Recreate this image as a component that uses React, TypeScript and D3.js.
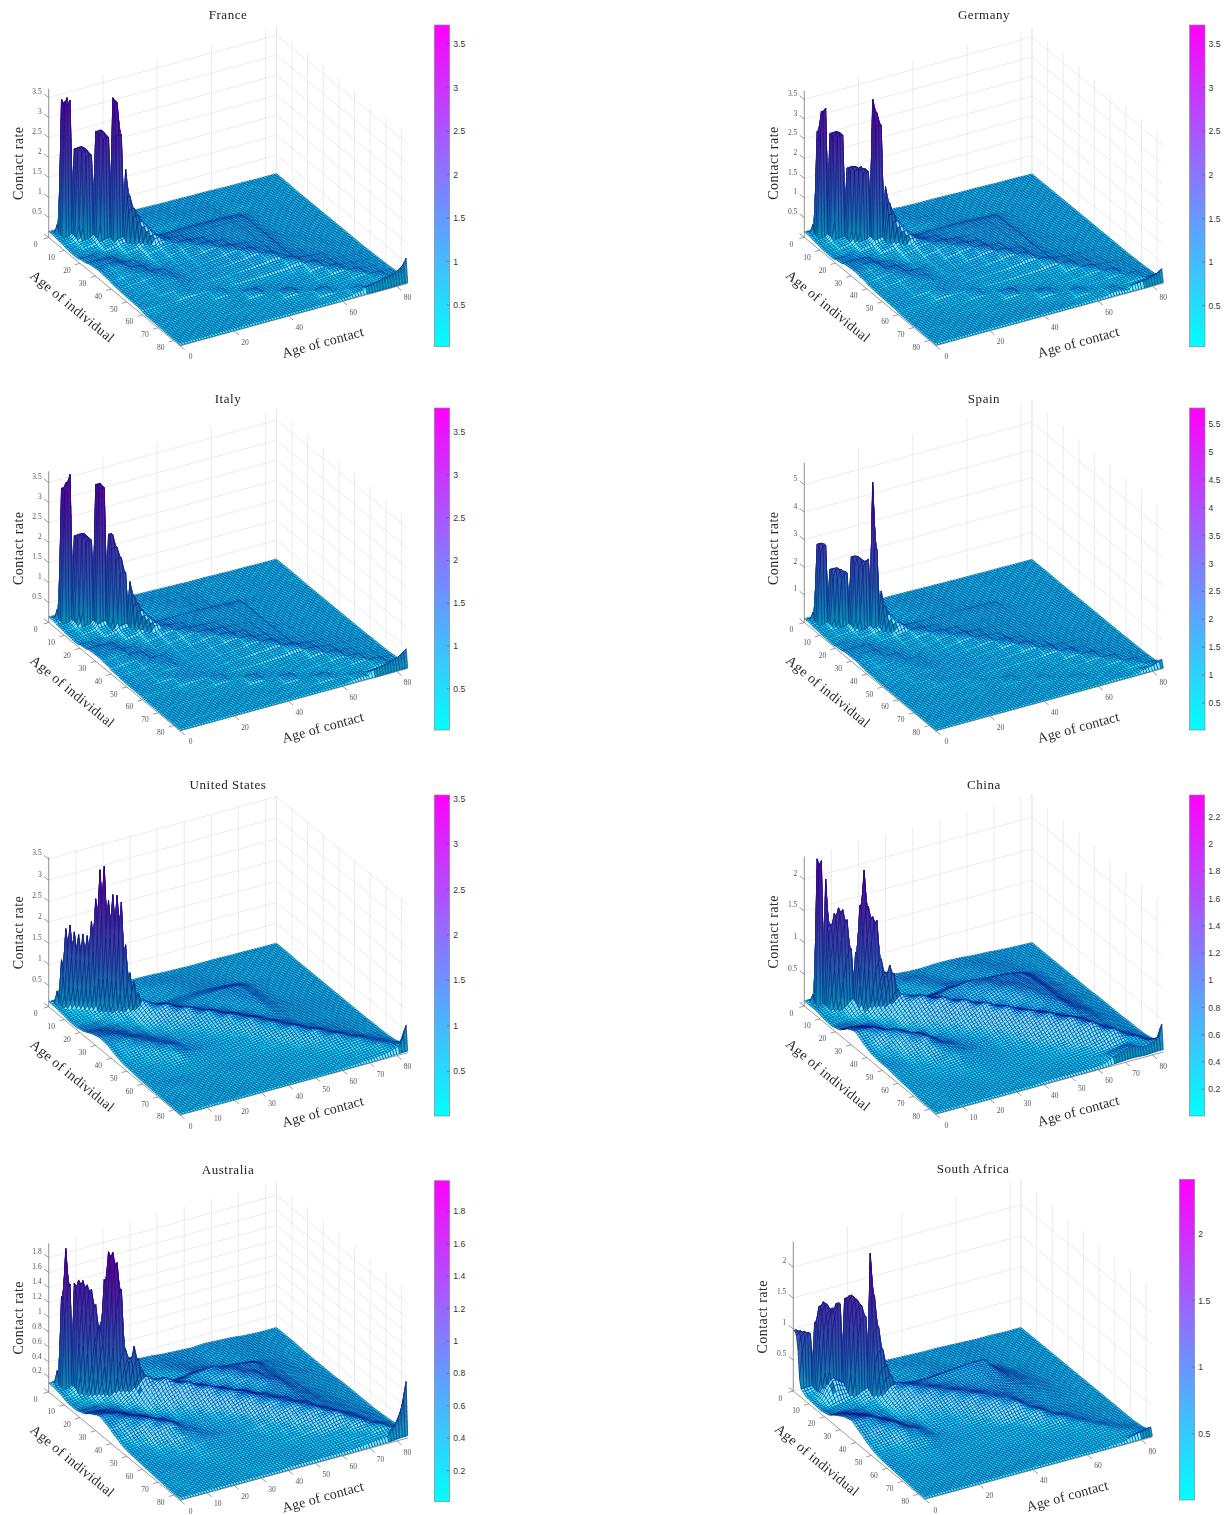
import React, { useMemo } from "react";
import * as d3 from "d3";

// Contact rates, in hundredths, per 5-year band of age (rows: individual, columns: contact).
// The mesh of the surface has one node per year; each node takes its value from these readings.
const franceBands = [
  [15,12,10,10,9,10,10,9,8,8,7,7,6,5,5,4,4],
  [12,25,12,10,9,11,11,10,9,8,7,6,5,5,4,4,4],
  [8,15,30,18,9,9,11,11,10,9,8,6,6,5,4,4,3],
  [7,8,18,30,14,9,9,10,10,9,8,6,5,5,4,3,3],
  [12,10,10,18,28,22,18,18,18,18,18,16,7,5,4,3,3],
  [18,18,10,12,22,28,24,20,20,20,20,17,7,5,4,3,3],
  [20,24,14,10,17,24,30,26,22,21,21,18,7,5,4,3,3],
  [18,22,20,12,15,20,26,32,26,22,21,18,8,5,4,3,3],
  [14,18,22,18,15,18,22,26,32,26,22,18,8,6,4,3,3],
  [12,14,18,20,15,17,19,22,26,32,24,18,8,6,5,3,3],
  [11,12,15,16,15,15,17,18,20,24,30,18,10,7,5,4,3],
  [10,10,10,15,13,12,12,14,14,16,18,24,14,10,6,4,3],
  [5,6,6,7,8,13,8,7,7,7,8,10,20,12,8,5,4],
  [5,5,5,5,6,6,6,13,7,6,7,8,12,18,10,7,5],
  [4,4,4,4,4,5,5,5,6,12,6,6,8,10,15,8,6],
  [3,3,3,3,3,3,4,4,4,4,5,11,6,7,8,12,8],
  [3,3,3,3,3,3,3,3,3,3,3,3,4,10,5,6,12],
];
const germanyBands = [
  [14,10,8,8,9,10,11,9,8,8,7,6,6,5,4,4,3],
  [10,24,12,9,9,11,12,10,9,8,7,6,5,5,4,3,3],
  [7,14,30,16,9,9,12,12,10,8,7,6,5,4,4,3,3],
  [6,8,18,32,15,9,10,11,11,9,7,6,5,4,3,3,3],
  [11,9,10,20,30,22,17,17,17,17,16,14,6,4,3,3,3],
  [17,17,9,11,22,30,24,19,18,19,18,15,6,4,3,3,3],
  [19,23,13,9,16,24,30,26,21,20,19,16,6,4,3,3,3],
  [16,21,19,11,13,18,26,32,26,21,19,16,7,4,3,3,3],
  [12,16,20,16,13,16,20,26,32,24,19,15,7,5,3,3,3],
  [10,12,16,18,13,15,17,20,24,30,22,16,7,5,4,3,3],
  [9,10,14,14,13,13,15,16,18,22,28,16,9,6,4,3,3],
  [8,8,8,14,12,11,11,12,12,14,16,22,13,9,5,4,3],
  [5,5,5,6,7,12,7,6,6,7,8,10,18,11,7,4,3],
  [4,4,4,4,5,5,5,12,6,5,6,8,11,16,9,6,4],
  [4,4,3,3,3,4,4,4,5,11,5,5,7,9,13,7,5],
  [3,3,3,3,3,3,3,3,3,3,4,10,5,6,7,10,7],
  [3,3,3,3,3,3,3,3,3,3,3,3,4,9,4,5,12],
];
const italyBands = [
  [14,10,8,7,8,10,10,9,8,7,6,6,5,4,4,3,3],
  [10,22,11,8,8,11,11,10,9,7,6,5,5,4,3,3,3],
  [7,12,28,14,8,9,11,11,10,8,6,5,5,4,3,3,3],
  [5,7,15,28,13,9,10,11,11,9,6,5,4,4,3,3,2],
  [10,8,8,16,24,16,14,14,14,13,12,10,5,4,3,3,2],
  [15,15,8,9,16,24,18,15,14,13,12,10,5,4,3,3,2],
  [16,18,11,8,12,18,24,20,16,14,12,10,5,4,3,3,2],
  [13,16,15,9,10,14,20,25,20,16,13,10,5,4,3,3,2],
  [9,12,15,13,10,13,16,20,25,19,14,10,6,4,3,3,2],
  [7,9,12,14,10,12,13,16,19,24,16,10,6,4,3,3,2],
  [6,7,11,10,10,10,11,13,15,18,22,12,7,5,4,3,2],
  [6,6,6,11,10,8,8,10,10,12,14,20,11,7,5,3,2],
  [4,4,4,5,6,10,6,5,5,6,7,9,16,10,6,4,3],
  [4,4,4,4,4,4,4,10,5,5,6,7,9,14,8,5,3],
  [3,3,3,3,3,3,3,3,4,9,4,4,6,8,12,6,4],
  [3,3,3,3,3,3,3,3,3,3,4,8,4,5,6,10,6],
  [2,2,2,2,2,2,2,2,2,2,2,2,3,7,3,5,10],
];
const spainBands = [
  [14,10,8,7,8,10,10,9,8,7,6,5,5,4,4,3,3],
  [10,20,11,8,8,11,11,10,9,7,6,5,5,4,3,3,3],
  [7,12,26,13,8,9,11,11,10,8,6,5,4,4,3,3,3],
  [5,7,14,28,13,9,10,11,11,9,6,5,4,4,3,3,2],
  [9,8,8,15,26,16,13,13,13,12,11,9,4,4,3,3,2],
  [14,14,8,9,16,26,18,14,13,12,11,9,5,4,3,3,2],
  [15,17,10,8,12,18,26,20,15,13,11,9,5,4,3,3,2],
  [11,15,14,9,10,14,20,28,20,15,12,9,5,4,3,3,2],
  [8,11,14,12,10,12,15,20,26,18,12,9,6,4,3,3,2],
  [6,8,11,13,10,11,12,15,18,26,15,10,6,4,3,3,2],
  [5,6,9,9,9,10,10,12,14,17,24,12,7,5,4,3,2],
  [5,5,6,9,8,8,8,9,10,11,13,20,11,7,5,3,2],
  [4,4,4,5,5,8,5,5,5,6,7,10,18,10,6,4,3],
  [4,4,4,4,4,4,4,8,4,5,6,7,9,16,8,5,3],
  [3,3,3,3,3,3,3,3,3,7,4,4,6,8,14,6,4],
  [3,3,3,3,3,3,3,3,3,3,3,6,4,5,6,12,6],
  [2,2,2,2,2,2,2,2,2,2,2,2,3,5,3,5,14],
];
const usBands = [
  [12,10,8,8,8,10,10,9,7,6,5,5,5,4,4,3,3],
  [10,20,14,8,7,9,11,11,9,7,5,5,4,4,3,3,3],
  [6,14,24,16,7,7,9,10,10,8,6,5,4,4,3,3,2],
  [5,6,16,28,14,8,8,10,11,10,8,6,4,3,3,2,2],
  [10,8,8,16,44,26,16,17,19,20,21,18,6,4,3,2,2],
  [20,14,8,10,32,44,26,17,18,20,22,19,7,4,3,2,2],
  [26,22,12,9,20,32,44,26,18,18,21,20,8,4,3,2,2],
  [24,28,20,12,13,21,32,42,26,18,18,20,9,5,3,2,2],
  [16,24,26,18,12,15,21,32,40,26,17,18,9,6,4,3,2],
  [10,14,24,26,13,13,15,21,30,38,24,15,9,7,5,3,2],
  [8,9,14,22,15,12,12,15,19,28,34,20,10,7,5,3,2],
  [6,7,8,9,9,9,10,11,13,18,26,32,16,9,6,3,2],
  [5,5,5,5,6,6,6,7,8,10,14,24,30,14,7,4,3],
  [4,5,5,4,4,5,5,5,6,7,9,12,20,26,12,5,3],
  [3,3,4,3,3,3,4,4,4,5,6,7,10,16,22,10,4],
  [3,3,3,3,2,2,3,3,3,3,3,4,5,7,12,18,8],
  [2,2,3,2,2,2,2,2,2,2,2,2,3,4,6,10,20],
];
const chinaBands = [
  [8,8,7,6,9,12,12,10,9,10,10,9,7,6,4,3,2],
  [8,16,10,7,9,11,14,13,10,9,10,10,9,6,4,3,2],
  [5,10,30,12,8,8,11,14,12,9,9,10,10,7,4,3,2],
  [4,5,14,34,14,9,9,12,15,13,10,9,10,8,5,3,2],
  [8,7,8,22,40,30,22,22,26,30,28,26,24,20,8,3,2],
  [20,14,9,14,30,42,30,22,24,30,32,28,26,22,9,3,2],
  [26,24,12,10,20,32,44,30,22,26,32,32,28,24,10,4,2],
  [18,28,26,12,14,22,32,44,30,22,26,32,30,24,11,4,2],
  [12,20,30,24,12,16,22,32,44,30,22,26,30,24,12,5,3],
  [10,14,24,30,16,13,16,22,32,42,30,22,26,26,14,5,3],
  [10,10,16,24,20,14,13,16,22,32,40,30,22,26,16,6,3],
  [8,8,11,15,18,15,12,12,16,22,32,40,28,22,16,7,3],
  [6,6,7,9,12,11,10,9,11,14,20,30,38,26,14,7,4],
  [5,5,5,5,7,8,7,7,8,9,12,16,26,34,18,8,4],
  [3,4,4,4,4,5,5,5,5,6,7,9,12,18,28,12,5],
  [2,3,3,3,3,3,3,4,4,4,4,5,6,8,12,20,8],
  [2,2,2,2,2,2,2,2,3,3,3,3,4,14,20,14,20],
];
const australiaBands = [
  [12,10,8,8,8,11,12,11,9,8,7,8,7,6,4,3,3],
  [10,20,10,8,8,10,12,12,10,8,7,8,7,6,4,3,3],
  [6,10,26,14,8,8,10,13,12,9,7,7,7,6,4,3,3],
  [6,6,14,30,16,10,9,11,14,12,8,7,7,6,4,3,2],
  [10,9,9,20,40,28,20,20,24,26,22,20,17,8,5,3,2],
  [18,14,9,12,28,40,28,20,21,26,26,21,17,9,6,3,2],
  [24,20,13,10,18,28,38,28,20,21,26,24,18,10,6,4,2],
  [20,24,20,12,13,19,28,36,28,20,21,25,20,11,6,4,2],
  [14,20,26,19,12,15,19,28,34,28,20,21,20,12,6,4,3],
  [9,13,22,25,14,13,15,19,28,32,26,20,18,13,7,4,3],
  [7,8,13,19,16,12,13,15,18,26,30,24,18,14,8,4,3],
  [6,6,8,12,14,13,12,12,14,17,24,28,22,14,9,5,3],
  [5,5,6,7,10,10,9,9,9,12,15,22,26,18,10,6,3],
  [4,5,5,5,6,7,7,6,7,8,10,13,18,24,14,7,4],
  [3,4,4,4,4,5,5,5,5,5,6,7,9,12,18,9,5],
  [2,3,3,3,3,3,4,4,4,4,4,5,6,8,9,14,7],
  [2,2,2,2,2,2,2,2,3,3,3,3,3,4,6,7,16],
];
const southAfricaBands = [
  [20,10,6,5,6,8,9,8,7,6,6,5,4,3,3,2,2],
  [8,20,8,5,6,7,8,9,8,6,6,5,4,3,2,2,2],
  [6,40,24,8,6,6,7,8,8,7,5,5,4,3,2,2,2],
  [5,8,14,24,12,7,7,8,9,8,5,5,4,3,2,2,2],
  [8,8,8,14,34,28,24,24,26,28,30,30,8,3,2,2,2],
  [18,12,8,9,26,34,28,24,24,26,28,26,12,5,3,2,2],
  [26,20,10,8,18,28,34,28,24,24,26,22,14,7,3,2,2],
  [30,28,17,8,12,20,28,34,28,24,24,20,14,8,4,2,2],
  [22,26,24,12,9,15,20,28,34,28,24,18,12,8,4,2,2],
  [14,18,24,18,9,12,15,20,26,32,26,16,10,7,4,2,2],
  [8,10,16,17,10,9,11,13,16,24,30,16,9,6,3,2,2],
  [6,7,9,10,8,8,8,9,10,12,16,22,10,6,4,2,2],
  [5,5,6,7,6,6,6,6,7,8,8,12,16,8,4,3,2],
  [4,4,4,4,4,4,4,4,4,5,5,6,8,12,5,3,2],
  [3,3,3,3,3,3,3,3,3,3,4,4,5,6,9,4,2],
  [2,2,2,2,2,2,2,2,2,2,2,3,3,4,5,7,4],
  [2,2,2,2,2,2,2,2,2,2,2,2,2,2,3,4,8],
];

// Rate on the main diagonal of the surface, one value per year of age from 0.
const franceDiagonal = [0.12,0.15,0.35,3.5,3.35,3.5,2.3,2.35,2.35,2.3,2.2,2.8,2.85,2.8,2.7,3.7,3.6,2.8,1.95,1.3,1.0,0.85,0.7,0.6,0.5,0.42,0.36,0.3];
const germanyDiagonal = [0.12,0.15,0.35,2.73,3.25,3.35,2.72,2.76,2.76,2.72,1.9,1.93,1.95,1.9,1.93,1.88,3.73,3.4,3.1,1.55,1.15,0.9,0.72,0.6,0.5,0.42,0.35,0.3];
const italyDiagonal = [0.12,0.15,0.35,3.4,3.55,3.77,2.25,2.3,2.3,2.28,2.2,3.6,3.65,3.55,2.4,2.4,2.1,1.85,1.5,1.28,0.95,0.75,0.6,0.5,0.42,0.35,0.3];
const spainDiagonal = [0.1,0.15,0.4,2.9,2.95,2.9,2.05,2.1,2.1,2.05,2.0,2.6,2.65,2.6,2.5,2.6,5.4,3.0,1.5,0.95,0.7,0.55,0.45,0.38,0.3];
const usDiagonal = [0.12,0.15,0.4,1.15,1.9,2.0,1.85,1.8,1.82,1.8,2.15,2.7,3.4,3.5,2.7,2.85,2.85,2.7,1.7,1.05,0.85,0.6,0.45,0.35];
const chinaDiagonal = [0.08,0.1,0.2,2.35,2.33,2.05,1.35,1.52,1.62,1.6,1.45,1.0,0.95,1.7,2.27,1.7,1.55,1.5,0.9,0.7,0.82,0.7,0.45,0.3];
const australiaDiagonal = [0.12,0.14,0.3,1.3,1.95,1.48,1.5,1.55,1.55,1.5,1.45,1.25,0.95,1.6,1.98,1.98,1.85,1.5,0.7,0.6,0.76,0.6,0.45,0.3];
const southAfricaDiagonal = [0.98,0.98,0.97,0.97,0.96,1.15,1.42,1.5,1.46,1.38,1.5,1.5,1.6,1.65,1.65,1.6,1.52,1.35,2.38,1.7,1.2,0.85,0.6,0.45,0.32];

// Years after which the diagonal breaks between two blocks.
const franceBreaks = [2,5,10,14,17];
const germanyBreaks = [2,5,9,15,18];
const italyBreaks = [2,5,10,13,18];
const spainBreaks = [2,5,10,15,17];
const usBreaks = [2];
const chinaBreaks = [2,4,11];
const australiaBreaks = [2,5];
const southAfricaBreaks = [4,11,17];

// Share of the diagonal rate kept 0, 1, 2... years off the diagonal.
const franceCross = [1,1,1,0.2,0.1];
const germanyCross = [1,1,1,0.2,0.1];
const italyCross = [1,1,1,0.2,0.1];
const spainCross = [1,1,0.9,0.2,0.08];
const usCross = [1,0.68,0.32,0.12];
const chinaCross = [1,0.95,0.8,0.5,0.22];
const australiaCross = [1,0.95,0.8,0.5,0.22];
const southAfricaCross = [1,1,0.95,0.75,0.3];

// Rates at the far corner, along the second-oldest row, ending at the oldest contact age.
const franceTail = [0.16,0.17,0.18,0.2,0.21,0.22,0.23,0.25,0.26,0.27,0.29,0.32,0.36,0.4,0.46,0.6];
const germanyTail = [0.12,0.13,0.14,0.15,0.16,0.17,0.18,0.2,0.22,0.24,0.28,0.34];
const italyTail = [0.14,0.15,0.16,0.18,0.19,0.2,0.22,0.24,0.26,0.28,0.31,0.35,0.4,0.46];
const spainTail = [0.1,0.11,0.12,0.14,0.16,0.19,0.23,0.28];
const usTail = [0.1,0.12,0.16,0.24,0.38,0.62];
const chinaTail = [0.1,0.14,0.25,0.42];
const australiaTail = [0.12,0.15,0.2,0.27,0.36,0.5,0.74];
const southAfricaTail = [0.06,0.07,0.08,0.09,0.1,0.11,0.12,0.13,0.14];
const tailRows = [0,1,0.8,0.4];

const ticks20 = [0,20,40,60,80];
const ticks10 = [0,10,20,30,40,50,60,70,80];
const zTicks35 = [0,0.5,1,1.5,2,2.5,3,3.5];
const AGE_MAX = 84;

const panels = [
  { title:"France", tx:228, ty:19, lx:48.7, ly:237.5, zs:40, bands:franceBands, diag:franceDiagonal, breaks:franceBreaks, cross:franceCross, tail:franceTail, stepShare:0.35, cTicks:ticks20, zTicks:zTicks35, cbx:434.3, cby0:25, cby1:346.7, lo:0.02, hi:3.72, cbTicks:[0.5,1,1.5,2,2.5,3,3.5] },
  { title:"Germany", tx:984, ty:19, lx:804.3, ly:237.3, zs:39.4, bands:germanyBands, diag:germanyDiagonal, breaks:germanyBreaks, cross:germanyCross, tail:germanyTail, stepShare:0.35, cTicks:ticks20, zTicks:zTicks35, cbx:1189.6, cby0:25, cby1:346.7, lo:0.03, hi:3.72, cbTicks:[0.5,1,1.5,2,2.5,3,3.5] },
  { title:"Italy", tx:228, ty:403, lx:48.7, ly:622.5, zs:40, bands:italyBands, diag:italyDiagonal, breaks:italyBreaks, cross:italyCross, tail:italyTail, stepShare:0.45, cTicks:ticks20, zTicks:zTicks35, cbx:434.3, cby0:408, cby1:730, lo:0.02, hi:3.78, cbTicks:[0.5,1,1.5,2,2.5,3,3.5] },
  { title:"Spain", tx:984, ty:403, lx:804.3, ly:622.5, zs:27.6, bands:spainBands, diag:spainDiagonal, breaks:spainBreaks, cross:spainCross, tail:spainTail, stepShare:0.45, cTicks:ticks20, zTicks:[0,1,2,3,4,5], cbx:1189.6, cby0:408, cby1:730, lo:0.016, hi:5.79, cbTicks:[0.5,1,1.5,2,2.5,3,3.5,4,4.5,5,5.5] },
  { title:"United States", tx:228, ty:789, lx:48.7, ly:1006.7, zs:42.2, bands:usBands, diag:usDiagonal, breaks:usBreaks, cross:usCross, tail:usTail, stepShare:0, cTicks:ticks10, zTicks:zTicks35, cbx:434.3, cby0:795, cby1:1116, lo:0.008, hi:3.54, cbTicks:[0.5,1,1.5,2,2.5,3,3.5] },
  { title:"China", tx:984, ty:789, lx:804.3, ly:1006, zs:63.3, bands:chinaBands, diag:chinaDiagonal, breaks:chinaBreaks, cross:chinaCross, tail:chinaTail, stepShare:0.05, cTicks:ticks10, zTicks:[0,0.5,1,1.5,2], cbx:1189.3, cby0:795, cby1:1116, lo:0.004, hi:2.36, cbTicks:[0.2,0.4,0.6,0.8,1,1.2,1.4,1.6,1.8,2,2.2] },
  { title:"Australia", tx:228, ty:1174, lx:48.7, ly:1392, zs:74.7, bands:australiaBands, diag:australiaDiagonal, breaks:australiaBreaks, cross:australiaCross, tail:australiaTail, stepShare:0.12, cTicks:ticks10, zTicks:[0,0.2,0.4,0.6,0.8,1,1.2,1.4,1.6,1.8], cbx:434.3, cby0:1180.7, cby1:1501.7, lo:0.008, hi:1.99, cbTicks:[0.2,0.4,0.6,0.8,1,1.2,1.4,1.6,1.8] },
  { title:"South Africa", tx:973, ty:1173, lx:793.3, ly:1391, zs:62, bands:southAfricaBands, diag:southAfricaDiagonal, breaks:southAfricaBreaks, cross:southAfricaCross, tail:southAfricaTail, stepShare:0.05, cTicks:ticks20, zTicks:[0,0.5,1,1.5,2], cbx:1179.3, cby0:1179.3, cby1:1500, lo:0.004, hi:2.41, cbTicks:[0.5,1,1.5,2] },
];

type Panel = (typeof panels)[number];

const EDGE = "#000c80";
const EDGE_W = 0.43;
const coolMap = d3.interpolateRgb("#00ffff", "#ff00ff");
const mixWhite = (col: string, k: number) => d3.interpolateRgb(col, "#ffffff")(k);
const shadeWall = (col: string, t: number) => {
  const c = d3.rgb(col);
  const f = 0.66 - 0.26 * Math.sqrt(t);
  return d3.rgb(c.r * f, c.g * f, c.b * f + 70 * (1 - f)).formatRgb();
};

const iX = d3.scaleLinear().domain([0, AGE_MAX]).range([0, 131.3]);
const iY = d3.scaleLinear().domain([0, AGE_MAX]).range([0, 108.3]);
const cX = d3.scaleLinear().domain([0, AGE_MAX]).range([0, 227.7]);
const cY = d3.scaleLinear().domain([0, AGE_MAX]).range([0, -62.3]);

function nodeRate(p: Panel, i: number, c: number): number {
  const n = p.bands.length - 1;
  const pi = Math.max(0, Math.min(n, (i - 2.5) / 5));
  const pc = Math.max(0, Math.min(n, (c - 2.5) / 5));
  const i0 = Math.floor(pi), c0 = Math.floor(pc);
  const i1 = Math.min(n, i0 + 1), c1 = Math.min(n, c0 + 1);
  const top = d3.interpolateNumber(p.bands[i0][c0], p.bands[i0][c1])(pc - c0);
  const bottom = d3.interpolateNumber(p.bands[i1][c0], p.bands[i1][c1])(pc - c0);
  const smooth = d3.interpolateNumber(top, bottom)(pi - i0) / 100;
  const held = p.bands[Math.min(n, Math.floor(i / 5))][Math.min(n, Math.floor(c / 5))] / 100;
  let base = smooth + (held - smooth) * p.stepShare;
  const off = Math.abs(i - c);
  if (off < p.cross.length && i < p.diag.length && c < p.diag.length) {
    const a = Math.min(i, c), b = Math.max(i, c);
    const broken = p.breaks.some((k) => a <= k && b > k);
    if (!broken) base = Math.max(base, p.cross[off] * Math.min(p.diag[i], p.diag[c]));
  }
  const row = AGE_MAX - i, col = AGE_MAX - c;
  if (row === 0) base *= 0.2;
  if (row > 0 && row < tailRows.length && col < p.tail.length) {
    base = Math.max(base, tailRows[row] * p.tail[p.tail.length - 1 - col]);
  }
  return base;
}

type Item = { d: string; fill: string; stroke: string; sw: number };

function buildSurface(p: Panel): Item[] {
  const grid = d3.range(AGE_MAX + 1).map((i) => d3.range(AGE_MAX + 1).map((c) => nodeRate(p, i, c)));
  const zY = d3.scaleLinear().domain([0, 1]).range([0, -p.zs]);
  const t = d3.scaleLinear().domain([p.lo, p.hi]).range([0, 1]).clamp(true);
  const bins = 48;
  const px = (i: number, c: number) => p.lx + iX(i) + cX(c);
  const py = (i: number, c: number, z: number) => p.ly + iY(i) + cY(c) + zY(z);
  const step = (p.hi - p.lo) / 30;
  const items: Item[] = [];
  let run: any = null, runColor = "";
  const flush = () => {
    if (run) items.push({ d: run.toString(), fill: runColor, stroke: EDGE, sw: EDGE_W });
    run = null; runColor = "";
  };
  const quad = (path: any, a: number[], b: number[], cc: number[], dd: number[]) => {
    path.moveTo(a[0], a[1]); path.lineTo(b[0], b[1]); path.lineTo(cc[0], cc[1]); path.lineTo(dd[0], dd[1]); path.closePath();
  };
  for (let i = 0; i < AGE_MAX; i++) {
    for (let c = AGE_MAX - 1; c >= 0; c--) {
      const zA = grid[i][c], zB = grid[i][c + 1], zC = grid[i + 1][c + 1], zD = grid[i + 1][c];
      const mx = Math.max(zA, zB, zC, zD), mn = Math.min(zA, zB, zC, zD);
      const A = [px(i, c), py(i, c, zA)], B = [px(i, c + 1), py(i, c + 1, zB)];
      const C = [px(i + 1, c + 1), py(i + 1, c + 1, zC)], D = [px(i + 1, c), py(i + 1, c, zD)];
      const isWall = (mx - mn) * p.zs > 6;
      if (isWall || mx - mn > step * 1.5) {
        flush();
        const nu = Math.min(14, Math.max(1, Math.ceil(Math.max(Math.abs(zA - zB), Math.abs(zD - zC)) / step)));
        const nv = Math.min(14, Math.max(1, Math.ceil(Math.max(Math.abs(zA - zD), Math.abs(zB - zC)) / step)));
        const at = (u: number, v: number) => {
          const z = (1 - v) * ((1 - u) * zA + u * zB) + v * ((1 - u) * zD + u * zC);
          return { x: px(i + v, c + u), y: py(i + v, c + u, z), z };
        };
        for (let v = 0; v < nv; v++) {
          for (let u = nu - 1; u >= 0; u--) {
            const a = at(u / nu, v / nv), b = at((u + 1) / nu, v / nv), e = at((u + 1) / nu, (v + 1) / nv), f = at(u / nu, (v + 1) / nv);
            const tv = t((a.z + b.z + e.z + f.z) / 4);
            const raw = coolMap(Math.round(tv * bins) / bins);
            const col = isWall ? shadeWall(raw, tv) : raw;
            const path = d3.pathRound(2);
            quad(path, [a.x, a.y], [b.x, b.y], [e.x, e.y], [f.x, f.y]);
            items.push({ d: path.toString(), fill: col, stroke: col, sw: 0.35 });
          }
        }
        const outline = d3.pathRound(2);
        quad(outline, A, B, C, D);
        items.push({ d: outline.toString(), fill: "none", stroke: EDGE, sw: EDGE_W });
      } else {
        const area = Math.abs((C[0] - A[0]) * (D[1] - B[1]) - (C[1] - A[1]) * (D[0] - B[0])) / 2;
        const ratio = area / 4.65;
        const tv = t((zA + zB + zC + zD) / 4);
        const light = tv < 0.22 ? Math.round(Math.max(0, Math.min(0.4, (ratio - 1.4) * 0.7)) * 8) / 8 : 0;
        const base = tv >= 0.22 ? shadeWall(coolMap(Math.round(tv * bins) / bins), tv) : coolMap(Math.round(tv * bins) / bins);
        const color = light > 0 ? mixWhite(base, light) : base;
        if (color !== runColor) { flush(); run = d3.pathRound(2); runColor = color; }
        quad(run, A, B, C, D);
      }
    }
    flush();
  }
  return items;
}

const AXIS = "#6e6e6e", GRID = "#e4e4e4", TICKTEXT = "#555555", SERIF = "'Liberation Serif', serif";

function Axes3D({ p }: { p: Panel }) {
  const zY = d3.scaleLinear().domain([0, 1]).range([0, -p.zs]);
  const at = (i: number, c: number, z: number): [number, number] => [p.lx + iX(i) + cX(c), p.ly + iY(i) + cY(c) + zY(z)];
  const line = d3.line();
  const seg = (a: [number, number], b: [number, number]) => line([a, b]) as string;
  const zTop = p.hi;
  return (
    <g>
      <g stroke={GRID} strokeWidth={0.7} fill="none">
        {p.zTicks.map((z) => <path key={"a" + z} d={seg(at(0, 0, z), at(0, AGE_MAX, z))} />)}
        {p.zTicks.map((z) => <path key={"b" + z} d={seg(at(0, AGE_MAX, z), at(AGE_MAX, AGE_MAX, z))} />)}
        {p.cTicks.map((c) => <path key={"c" + c} d={seg(at(0, c, 0), at(0, c, zTop))} />)}
        {ticks10.map((i) => <path key={"d" + i} d={seg(at(i, AGE_MAX, 0), at(i, AGE_MAX, zTop))} />)}
        <path d={seg(at(0, AGE_MAX, 0), at(0, AGE_MAX, zTop))} />
      </g>
    </g>
  );
}

function AxesFront({ p }: { p: Panel }) {
  const zY = d3.scaleLinear().domain([0, 1]).range([0, -p.zs]);
  const at = (i: number, c: number, z: number): [number, number] => [p.lx + iX(i) + cX(c), p.ly + iY(i) + cY(c) + zY(z)];
  const line = d3.line();
  const seg = (a: [number, number], b: [number, number]) => line([a, b]) as string;
  const o = at(0, 0, 0);
  return (
    <g fontFamily={SERIF} opacity={0.995}>
      <g stroke={AXIS} strokeWidth={0.7} fill="none">
        <path d={seg(at(0, 0, 0), at(0, 0, p.hi))} />
        <path d={seg(at(0, 0, 0), at(AGE_MAX, 0, 0))} />
        <path d={seg(at(AGE_MAX, 0, 0), at(AGE_MAX, AGE_MAX, 0))} />
        {p.zTicks.map((z) => { const a = at(0, 0, z); return <path key={"z" + z} d={seg(a, [a[0] - 4.7, a[1] - 3.6])} />; })}
        {ticks10.map((i) => { const a = at(i, 0, 0); return <path key={"i" + i} d={seg(a, [a[0] - 5, a[1] + 1.4])} />; })}
        {p.cTicks.map((c) => { const a = at(AGE_MAX, c, 0); return <path key={"c" + c} d={seg(a, [a[0] + 4.7, a[1] + 3.9])} />; })}
      </g>
      <g fill={TICKTEXT} fontSize={7.5}>
        {p.zTicks.filter((z) => z !== 0).map((z) => { const a = at(0, 0, z); return <text key={"z" + z} x={a[0] - 7} y={a[1] - 3.6} textAnchor="end">{z}</text>; })}
        {ticks10.map((i) => { const a = at(i, 0, 0); return <text key={"i" + i} x={a[0] - 13} y={a[1] + 9.6} textAnchor="middle">{i}</text>; })}
        {p.cTicks.map((c) => { const a = at(AGE_MAX, c, 0); return <text key={"c" + c} x={a[0] + 10.7} y={a[1] + 13.6} textAnchor="middle">{c}</text>; })}
      </g>
      <g fill="#2a2a2a" fontSize={14} textAnchor="middle" dominantBaseline="central">
        <text transform={`translate(${o[0] + 23.6},${o[1] + 69}) rotate(39.5)`} textLength={104} lengthAdjust="spacing">Age of individual</text>
        <text transform={`translate(${o[0] + 274},${o[1] + 105}) rotate(-15.4)`} textLength={84} lengthAdjust="spacing">Age of contact</text>
        <text transform={`translate(${o[0] - 30.4},${o[1] - 74}) rotate(-90)`} textLength={73} lengthAdjust="spacing">Contact rate</text>
      </g>
      <text x={p.tx} y={p.ty} textAnchor="middle" fontSize={13} fill="#222" letterSpacing={0.55}>{p.title}</text>
    </g>
  );
}

function ColorBar({ p, id }: { p: Panel; id: string }) {
  const y = d3.scaleLinear().domain([p.lo, p.hi]).range([p.cby1, p.cby0]);
  const w = 15.4;
  return (
    <g opacity={0.995}>
      <defs>
        <linearGradient id={id} x1="0" y1="1" x2="0" y2="0">
          <stop offset="0" stopColor="#00ffff" />
          <stop offset="1" stopColor="#ff00ff" />
        </linearGradient>
      </defs>
      <rect x={p.cbx} y={p.cby0} width={w} height={p.cby1 - p.cby0} fill={`url(#${id})`} stroke="#8a8a8a" strokeWidth={0.7} />
      {p.cbTicks.map((v) => (
        <g key={v}>
          <path d={`M${p.cbx + w - 3},${y(v)}H${p.cbx + w}`} stroke="#555" strokeWidth={0.5} />
          <text x={p.cbx + w + 3.6} y={y(v)} dy="0.35em" fontSize={8.6} fontFamily="'Liberation Sans', sans-serif" fill="#333">{v}</text>
        </g>
      ))}
    </g>
  );
}

function SurfacePanel({ p, id }: { p: Panel; id: string }) {
  const items = useMemo(() => buildSurface(p), [p]);
  return (
    <g>
      <Axes3D p={p} />
      <g strokeLinejoin="round">
        {items.map((it, k) => <path key={k} d={it.d} fill={it.fill} stroke={it.stroke} strokeWidth={it.sw} />)}
      </g>
      <AxesFront p={p} />
      <ColorBar p={p} id={id} />
    </g>
  );
}

export default function App() {
  return (
    <svg width={1225} height={1515} viewBox="0 0 1225 1515" style={{ position: "absolute", left: 0, top: 0, background: "#fff" }}>
      {panels.map((p, k) => <SurfacePanel key={p.title} p={p} id={"cb" + k} />)}
    </svg>
  );
}
